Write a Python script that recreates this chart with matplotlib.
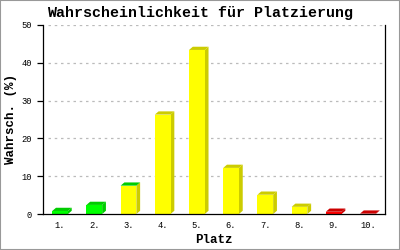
import matplotlib
matplotlib.use("Agg")
import matplotlib.pyplot as plt
from matplotlib.patches import Rectangle

# ===========================
# data
# ===========================
places = ['1.', '2.', '3.', '4.', '5.', '6.', '7.', '8.', '9.', '10.']
probs = [0.8, 2.4, 7.5, 26.3, 43.4, 12.2, 5.1, 1.9, 0.6, 0.1]
front_colors = ['#00ff00', '#00ff00', '#ffff00', '#ffff00', '#ffff00',
                '#ffff00', '#ffff00', '#ffff00', '#ff0000', '#ff0000']
top_colors = ['#00cc00', '#00cc00', '#00cc00', '#cccc00', '#cccc00',
              '#cccc00', '#cccc00', '#cccc00', '#cc0000', '#cc0000']
side_colors = ['#00cc00', '#00cc00', '#cccc00', '#cccc00', '#cccc00',
               '#cccc00', '#cccc00', '#cccc00', '#cc0000', '#cc0000']

mono = ['Liberation Mono', 'DejaVu Sans Mono']

fig = plt.figure(figsize=(4, 2.5), dpi=100)
fig.patch.set_facecolor('white')
ax = fig.add_axes([0.1075, 0.144, 0.855, 0.756])

x = list(range(1, len(places) + 1))
w = 0.46
dx, dy = 0.11, 0.85  # depth of the fake 3d look

ax.set_xlim(0.5, len(places) + 0.5)
ax.set_ylim(0, 50)

# grid
for yv in [10, 20, 30, 40, 50]:
    ax.plot([0.65, len(places) + 0.5], [yv, yv], color='#bbbbbb', lw=0.9,
            linestyle=(0, (2, 3)), zorder=1)

# front face
ax.bar(x, probs, width=w, color=front_colors, zorder=3)
# top and side faces
for xi, v, tc, sc in zip(x, probs, top_colors, side_colors):
    l, r = xi - w / 2, xi + w / 2
    ax.fill([l, l + dx, r + dx, r], [v, v + dy, v + dy, v], color=tc, lw=0, zorder=3)
    ax.fill([r, r + dx, r + dx, r], [0, 0 + dy, v + dy, v], color=sc, lw=0, zorder=2)

ax.spines['top'].set_visible(False)
for s in ['left', 'bottom', 'right']:
    ax.spines[s].set_linewidth(0.9)
    ax.spines[s].set_zorder(4)

ax.set_yticks([0, 10, 20, 30, 40, 50])
ax.set_xticks(x)
ax.set_xticklabels(places)
ax.tick_params(axis='y', length=4, width=0.9, pad=4, labelsize=6.3)
ax.tick_params(axis='x', length=0, pad=5, labelsize=6.3)
for lab in ax.get_xticklabels() + ax.get_yticklabels():
    lab.set_family(mono)

ax.set_xlabel('Platz', family=mono, fontweight='bold', fontsize=9)
ax.set_ylabel('Wahrsch. (%)', family=mono, fontweight='bold', fontsize=9)
ax.xaxis.set_label_coords(0.5, -0.105)
ax.yaxis.set_label_coords(-0.075, 0.5)
fig.text(0.5, 0.95, 'Wahrscheinlichkeit für Platzierung', family=mono,
         fontweight='bold', fontsize=10.8, ha='center', va='center')

# grey frame round the picture
fig.patches.append(Rectangle((0, 0), 1, 1, transform=fig.transFigure,
                             fill=False, edgecolor='#999999', lw=1.5))

fig.savefig('out.png', dpi=100)
